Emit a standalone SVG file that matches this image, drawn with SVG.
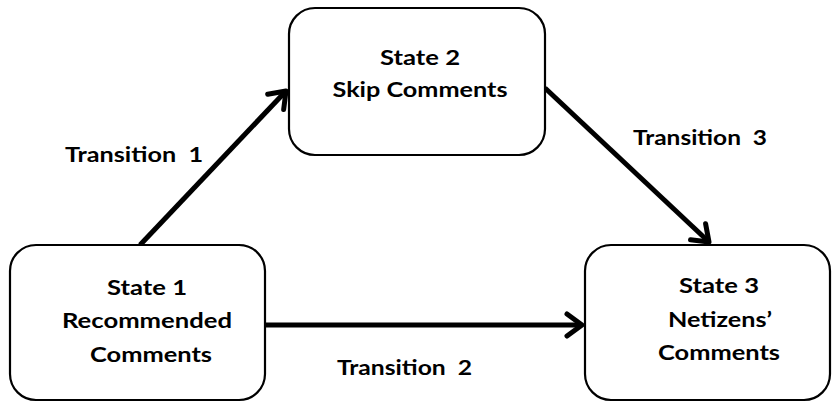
<svg xmlns="http://www.w3.org/2000/svg" width="834" height="403" viewBox="0 0 834 403">
<style>
.box{fill:#fff;stroke:#000;stroke-width:2.2}
.t{font-family:Lato,"Open Sans","DejaVu Sans",sans-serif;font-weight:bold;font-size:20.5px;fill:#000}
.c{text-anchor:middle}
.edge{stroke:#000;stroke-width:5;fill:none}
</style>
<defs>
<marker id="ah" markerUnits="userSpaceOnUse" markerWidth="30" markerHeight="30" viewBox="-20 -15 24 30" refX="0" refY="0" orient="auto">
<path d="M -15 -11 L 0 0 L -15 11" fill="none" stroke="#000" stroke-width="5" stroke-linecap="round" stroke-linejoin="round"/>
</marker>
</defs>
<rect width="834" height="403" fill="#fff"/>
<g id="connectors">
<line class="edge" x1="140" y1="245" x2="286" y2="91" marker-end="url(#ah)"/>
<line class="edge" x1="265" y1="325" x2="582" y2="325" marker-end="url(#ah)"/>
<line class="edge" x1="545" y1="88" x2="709" y2="242" marker-end="url(#ah)"/>
<text class="t" x="65" y="162" textLength="138" lengthAdjust="spacingAndGlyphs" xml:space="preserve">Transition  1</text>
<text class="t" x="337" y="375" textLength="135" lengthAdjust="spacingAndGlyphs" xml:space="preserve">Transition  2</text>
<text class="t" x="633" y="145" textLength="134" lengthAdjust="spacingAndGlyphs" xml:space="preserve">Transition  3</text>
</g>
<g id="state1">
<rect class="box" x="10" y="245" width="255" height="155" rx="26"/>
<text class="t c" x="147" y="295" textLength="80" lengthAdjust="spacingAndGlyphs">State 1</text>
<text class="t c" x="147" y="328" textLength="170" lengthAdjust="spacingAndGlyphs">Recommended</text>
<text class="t c" x="151" y="362" textLength="122" lengthAdjust="spacingAndGlyphs">Comments</text>
</g>
<g id="state2">
<rect class="box" x="289" y="8" width="256" height="147" rx="26"/>
<text class="t c" x="420" y="65" textLength="80" lengthAdjust="spacingAndGlyphs">State 2</text>
<text class="t c" x="420" y="97" textLength="175" lengthAdjust="spacingAndGlyphs">Skip Comments</text>
</g>
<g id="state3">
<rect class="box" x="585" y="245" width="245" height="155" rx="26"/>
<text class="t c" x="719" y="293" textLength="80" lengthAdjust="spacingAndGlyphs">State 3</text>
<text class="t c" x="720" y="327" textLength="104" lengthAdjust="spacingAndGlyphs">Netizens’</text>
<text class="t c" x="719" y="360" textLength="122" lengthAdjust="spacingAndGlyphs">Comments</text>
</g>
</svg>
